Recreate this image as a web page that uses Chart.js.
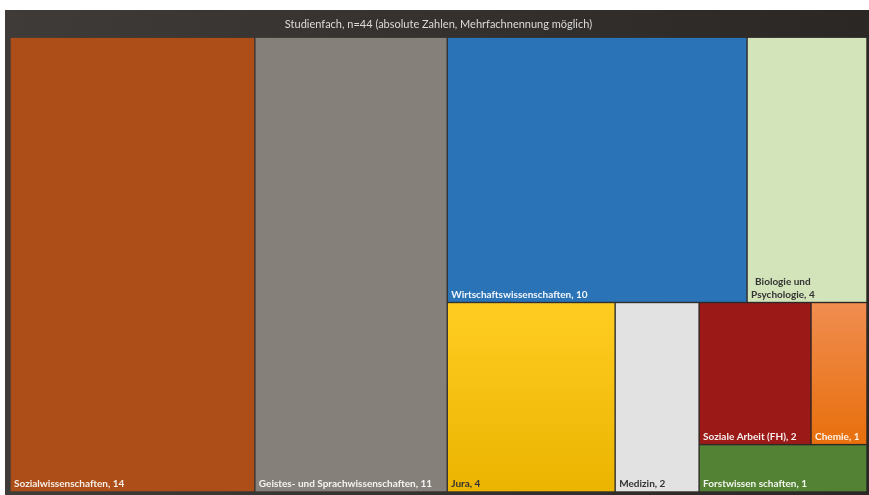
<!DOCTYPE html>
<html>
<head>
<meta charset="utf-8">
<script src="https://cdn.jsdelivr.net/npm/chart.js@4.4.1/dist/chart.umd.min.js"></script>
<style>
  html, body { margin: 0; padding: 0; background: #fff; }
  #wrap { width: 869px; height: 495px; }
</style>
</head>
<body>
<div id="wrap"><canvas id="tree"></canvas></div>
<script>
// data
const subjects = [
  'Sozialwissenschaften',
  'Geistes- und Sprachwissenschaften',
  'Wirtschaftswissenschaften',
  'Biologie und Psychologie',
  'Jura',
  'Medizin',
  'Soziale Arbeit (FH)',
  'Chemie',
  'Forstwissen schaften',
];
const counts = [14, 11, 10, 4, 4, 2, 2, 1, 1];

// how the tiles nest (h = side by side, v = stacked), indices into subjects
const NESTING = ['h', 0, 1, ['v', ['h', 2, 3], ['h', 4, 5, ['v', ['h', 6, 7], 8]]]];

const FILLS = ['#ad4e19', '#858079', '#2a73b7', '#d3e4bb', ['#ffcd22', '#ebb400'],
               '#e3e2e2', '#9b1a17', ['#f08d50', '#e86f0c'], '#548235'];
const INK   = ['#f7eee6', '#f4f4f4', '#f4f7fb', '#333', '#333', '#333', '#f7eeee', '#fff3ea', '#f2f7ee'];

function sumOf(node) {
  if (typeof node === 'number') return counts[node];
  return node.slice(1).reduce((s, n) => s + sumOf(n), 0);
}

function place(node, x0, y0, x1, y1, out) {
  if (typeof node === 'number') { out.push({ i: node, x0, y0, x1, y1 }); return out; }
  const horiz = node[0] === 'h';
  const total = sumOf(node);
  let pos = horiz ? x0 : y0;
  node.slice(1).forEach(k => {
    const span = (horiz ? x1 - x0 : y1 - y0) * sumOf(k) / total;
    if (horiz) place(k, pos, y0, pos + span, y1, out);
    else place(k, x0, pos, x1, pos + span, out);
    pos += span;
  });
  return out;
}

function wrapText(ctx, text, maxW) {
  const words = text.split(' ');
  const lines = [];
  let cur = '';
  words.forEach(w => {
    const test = cur ? cur + ' ' + w : w;
    if (cur && ctx.measureText(test).width > maxW) { lines.push(cur); cur = w; }
    else cur = test;
  });
  if (cur) lines.push(cur);
  return lines;
}

const frame = {
  id: 'frame',
  beforeDraw(chart) {
    const { ctx, width, height } = chart;
    ctx.save();
    ctx.fillStyle = '#fff';
    ctx.fillRect(0, 0, width, height);
    const g = ctx.createLinearGradient(5, 0, width, 0);
    g.addColorStop(0, '#3e3b38');
    g.addColorStop(1, '#2a2725');
    ctx.fillStyle = g;
    ctx.fillRect(5, 10, width - 5, height - 10);
    ctx.restore();
  },
};

const treemap = {
  id: 'treemap',
  afterDatasetsDraw(chart) {
    const { ctx, scales: { x, y } } = chart;
    const tiles = place(NESTING, 0, 0, 1, 1, []);
    ctx.save();
    tiles.forEach(t => {
      const left = x.getPixelForValue(t.x0), right = x.getPixelForValue(t.x1);
      const top = y.getPixelForValue(t.y0), bottom = y.getPixelForValue(t.y1);
      const f = FILLS[t.i];
      if (Array.isArray(f)) {
        const g = ctx.createLinearGradient(0, top, 0, bottom);
        g.addColorStop(0, f[0]);
        g.addColorStop(1, f[1]);
        ctx.fillStyle = g;
      } else ctx.fillStyle = f;
      ctx.fillRect(left + 0.7, top + 0.7, right - left - 1.4, bottom - top - 1.4);

      ctx.font = 'bold 10px Lato';
      ctx.fillStyle = INK[t.i];
      ctx.textBaseline = 'alphabetic';
      const label = subjects[t.i] + ', ' + counts[t.i];
      const lines = wrapText(ctx, label, right - left - 8);
      const widest = Math.max(...lines.map(l => ctx.measureText(l).width));
      const cx = left + 4 + widest / 2;
      ctx.textAlign = lines.length > 1 ? 'center' : 'left';
      lines.forEach((l, k) => {
        const by = bottom - 5 - (lines.length - 1 - k) * 13;
        ctx.fillText(l, lines.length > 1 ? cx : left + 4, by);
      });
    });
    ctx.restore();
  },
};

new Chart(document.getElementById('tree'), {
  type: 'scatter',
  data: { datasets: [{ label: 'Studienfach', data: [] }] },
  options: {
    responsive: true, maintainAspectRatio: false, animation: false,
    layout: { padding: { left: 10, right: 2, top: 10, bottom: 3 } },
    plugins: {
      legend: { display: false },
      tooltip: { enabled: false },
      title: {
        display: true,
        text: 'Studienfach, n=44 (absolute Zahlen, Mehrfachnennung möglich)',
        color: '#dcdcdc',
        font: { family: 'Lato', size: 11, weight: 'normal', lineHeight: 1.2 },
        padding: { top: 7.5, bottom: 6.5 },
      },
    },
    scales: {
      x: { type: 'linear', min: 0, max: 1, display: false },
      y: { type: 'linear', min: 0, max: 1, reverse: true, display: false },
    },
  },
  plugins: [frame, treemap],
});
</script>
</body>
</html>
